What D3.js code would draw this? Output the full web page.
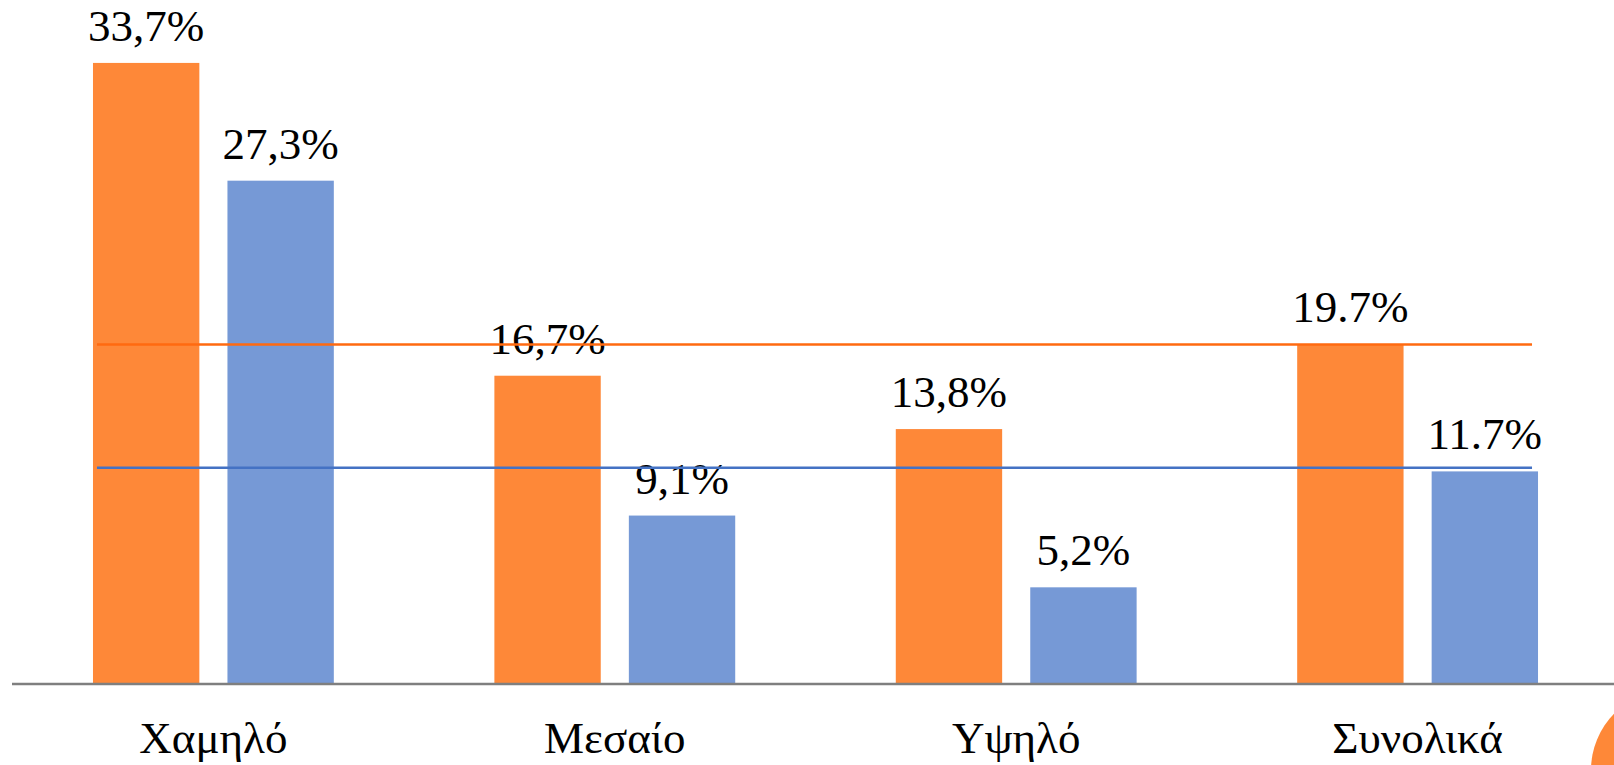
<!DOCTYPE html>
<html>
<head>
<meta charset="utf-8">
<script src="https://cdn.jsdelivr.net/npm/d3@7"></script>
<style>
  html, body { margin: 0; padding: 0; background: #fff; overflow: hidden; }
  text { font-family: "Liberation Serif", "DejaVu Serif", serif; fill: #000; }
</style>
</head>
<body>
<svg width="1614" height="765"></svg>
<script>
// data
var categories = ["Χαμηλό", "Μεσαίο", "Υψηλό", "Συνολικά"];
var series = ["a", "b"];
var orangeValues = [33.7, 16.7, 13.8, 18.4];
var blueValues = [27.3, 9.1, 5.2, 11.5];
var orangeLabels = ["33,7%", "16,7%", "13,8%", "19.7%"];
var blueLabels = ["27,3%", "9,1%", "5,2%", "11.7%"];
var refLines = [18.4, 11.7];

var colours = { a: "#FE8838", b: "#7699D6" };
var lineColours = ["#FF6A10", "#4472C4"];

var svg = d3.select("svg"),
    baseY = 683;

var x = d3.scaleBand()
    .domain(categories)
    .range([12.7, 1618.3])
    .paddingInner(0.4)
    .paddingOuter(0.2);

var xs = d3.scaleBand()
    .domain(series)
    .range([0, x.bandwidth()])
    .paddingInner(0.209);

var y = d3.scaleLinear()
    .domain([0, 35])
    .range([baseY, baseY - 35 * 18.4]);

var rows = categories.map(function(c, i) {
  return { cat: c, vals: [
    { s: "a", v: orangeValues[i], label: orangeLabels[i] },
    { s: "b", v: blueValues[i], label: blueLabels[i] }
  ]};
});

var groups = svg.selectAll(".grp")
  .data(rows)
  .enter().append("g")
    .attr("class", "grp")
    .attr("transform", function(d) { return "translate(" + x(d.cat) + ",0)"; });

groups.selectAll("rect")
  .data(function(d) { return d.vals; })
  .enter().append("rect")
    .attr("x", function(d) { return xs(d.s); })
    .attr("y", function(d) { return y(d.v); })
    .attr("width", xs.bandwidth())
    .attr("height", function(d) { return baseY - y(d.v); })
    .attr("fill", function(d) { return colours[d.s]; });

groups.selectAll(".val")
  .data(function(d) { return d.vals; })
  .enter().append("text")
    .attr("class", "val")
    .attr("x", function(d) { return xs(d.s) + xs.bandwidth() / 2; })
    .attr("y", function(d) { return y(d.v) - 22; })
    .attr("text-anchor", "middle")
    .style("font-size", "45px")
    .text(function(d) { return d.label; });

// reference lines over the bars
var lx0 = x(categories[0]) + 4,
    lx1 = x(categories[categories.length - 1]) + x.bandwidth() - 6;
svg.selectAll(".ref")
  .data(refLines)
  .enter().append("line")
    .attr("class", "ref")
    .attr("x1", lx0)
    .attr("x2", lx1)
    .attr("y1", function(d) { return y(d); })
    .attr("y2", function(d) { return y(d); })
    .attr("stroke", function(d, i) { return lineColours[i]; })
    .attr("stroke-width", 2.5);

// baseline
svg.append("line")
  .attr("x1", 12).attr("x2", 1614)
  .attr("y1", baseY + 1).attr("y2", baseY + 1)
  .attr("stroke", "#7F7F7F")
  .attr("stroke-width", 2.5);

// category labels
svg.selectAll(".cat")
  .data(categories)
  .enter().append("text")
    .attr("class", "cat")
    .attr("x", function(d) { return x(d) + x.bandwidth() / 2; })
    .attr("y", 753)
    .attr("text-anchor", "middle")
    .style("font-size", "45px")
    .text(function(d) { return d; });

// corner decoration
svg.append("circle")
  .attr("cx", 1671).attr("cy", 770).attr("r", 80)
  .attr("fill", "#FE8838");
</script>
</body>
</html>
